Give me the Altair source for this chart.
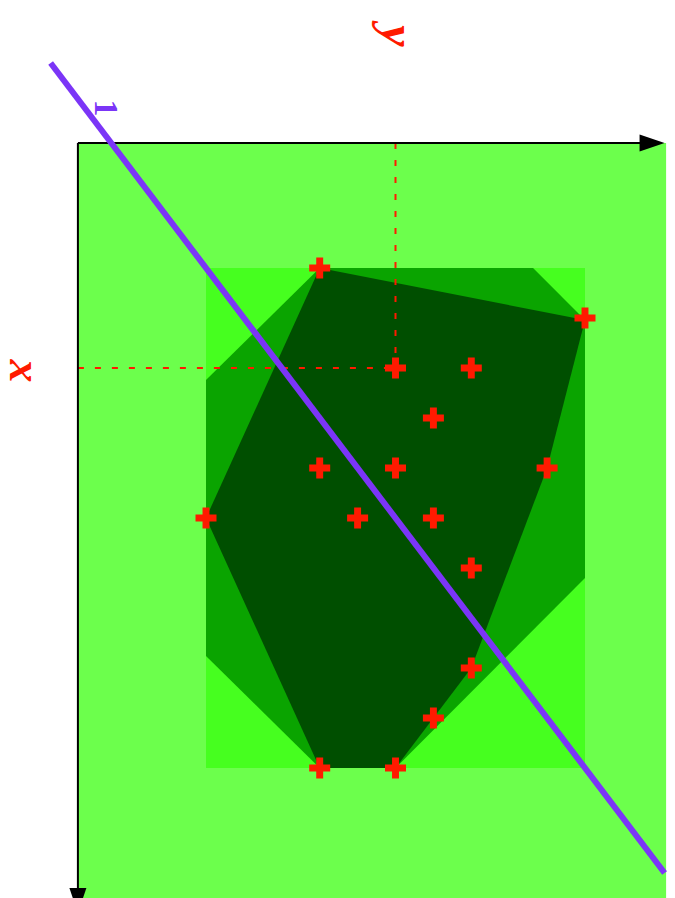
import altair as alt
import pandas as pd

# Diagram coordinates: "x" runs down the page, "y" runs to the right.
# Sample points
pt_x = [0, 1, 2, 2, 3, 4, 4, 4, 5, 5, 5, 6, 8, 9, 10, 10]
pt_y = [3, 10, 5, 7, 6, 3, 5, 9, 0, 4, 6, 7, 7, 6, 3, 5]

# Convex hull of the points
hull_x = [0, 1.04, 4, 8, 10, 10, 5]
hull_y = [3, 10, 9, 7, 5, 3, 0]

# Octagon: bounding box cut by the diagonal bounds
oct_x = [0, 0, 1.04, 6.2, 10, 10, 7.76, 2.24]
oct_y = [3, 8.63, 10, 10, 5, 3, 0, 0]

# Bounding box of the points
box_x = [0, 10]
box_y = [0, 10]

# Axis frame (origin and far ends) and background region
origin_x, origin_y = -2.5, -3.38
frame_x_end, frame_y_end = 12.6, 12.14

# Highlighted point for the dashed guides
guide_x, guide_y = 2, 5

# Separating line x = y
line_x = [-4.1, 12.1]
line_y = [-4.1, 12.1]

# Axis names (x label anchored at its baseline, y label at its centre)
xlab_text, xlab_x, xlab_y = "x", 2.06, -5.17
ylab_text, ylab_x, ylab_y = "y", -4.64, 5.0
line_label = "1"
line_label_x, line_label_y = -3.2, -2.66

W, H = 675, 898
XS = alt.Scale(domain=[-5.4354, 12.3747], nice=False, zero=False)
YS = alt.Scale(domain=[-5.36, 12.6], nice=False, zero=False, reverse=True)

RED = "#ff1a00"
PURPLE = "#7b35f7"


def px(field):
    return alt.X(field, type="quantitative", scale=XS, axis=None)


def py(field):
    return alt.Y(field, type="quantitative", scale=YS, axis=None)


def rect_layer(x0, x1, y0, y1, color):
    d = pd.DataFrame({"x0": [x0], "x1": [x1], "y0": [y0], "y1": [y1]})
    return alt.Chart(d).mark_rect(color=color, opacity=1).encode(
        x=px("y0"), x2="y1", y=py("x0"), y2="x1"
    )


def polygon_layer(xs, ys, color):
    d = pd.DataFrame({"x": xs, "y": ys, "i": list(range(len(xs)))})
    return alt.Chart(d).mark_line(
        filled=True, color=color, interpolate="linear-closed", strokeWidth=0
    ).encode(x=px("y"), y=py("x"), order="i:Q")


def segment_layer(x0, y0, x1, y1, **style):
    d = pd.DataFrame({"x0": [x0], "y0": [y0], "x1": [x1], "y1": [y1]})
    return alt.Chart(d).mark_rule(**style).encode(
        x=px("y0"), x2="y1", y=py("x0"), y2="x1"
    )


def text_layer(text, x, y, **style):
    d = pd.DataFrame({"t": [text], "x": [x], "y": [y]})
    return alt.Chart(d).mark_text(angle=90, align="center", **style).encode(
        x=px("y"), y=py("x"), text="t:N"
    )


background = rect_layer(origin_x, frame_x_end, origin_y, frame_y_end, "#6cff4c")
box = rect_layer(box_x[0], box_x[1], box_y[0], box_y[1], "#46ff1f")
octagon = polygon_layer(oct_x, oct_y, "#0aa400")
hull = polygon_layer(hull_x, hull_y, "#004f00")

dash_style = dict(color=RED, strokeWidth=2, strokeDash=[6, 11])
guide_h = segment_layer(guide_x, origin_y, guide_x, guide_y, **dash_style)
guide_v = segment_layer(origin_x, guide_y, guide_x, guide_y, **dash_style)

axis_style = dict(color="black", strokeWidth=2)
axis_right = segment_layer(origin_x, origin_y, origin_x, 11.9, **axis_style)
axis_down = segment_layer(origin_x, origin_y, 12.7, origin_y, **axis_style)

arrows = pd.DataFrame({
    "x": [origin_x, 12.65],
    "y": [11.77, origin_y],
    "shape": ["M-1,-0.68L1,0L-1,0.68Z", "M-0.68,-1L0.68,-1L0,1Z"],
})
arrow_heads = alt.Chart(arrows).mark_point(
    filled=True, color="black", opacity=1, size=625, strokeWidth=0
).encode(x=px("y"), y=py("x"), shape=alt.Shape("shape:N", scale=None, legend=None))

sep = pd.DataFrame({"x0": [line_x[0]], "y0": [line_y[0]], "x1": [line_x[1]], "y1": [line_y[1]]})
sep_line = alt.Chart(sep).mark_rule(color=PURPLE, strokeWidth=6, strokeCap="butt").encode(
    x=px("y0"), x2="y1", y=py("x0"), y2="x1"
)

pts = pd.DataFrame({"x": pt_x, "y": pt_y})
points = alt.Chart(pts).mark_point(
    shape="M-1,-0.33H-0.33V-1H0.33V-0.33H1V0.33H0.33V1H-0.33V0.33H-1Z",
    filled=True, color=RED, opacity=1, size=441, strokeWidth=0,
).encode(x=px("y"), y=py("x"))

label_font = dict(font="Liberation Serif", fontWeight="bold", fontStyle="italic", color=RED)
x_label = text_layer(xlab_text, xlab_x, xlab_y, fontSize=46, baseline="alphabetic", **label_font)
y_label = text_layer(ylab_text, ylab_x, ylab_y, fontSize=48, baseline="middle", **label_font)
line_text = text_layer(
    line_label, line_label_x, line_label_y,
    font="Liberation Serif", fontSize=34, fontWeight="bold", color=PURPLE, baseline="middle",
)

chart = alt.layer(
    background, box, octagon, hull, guide_h, guide_v, points,
    axis_right, axis_down, arrow_heads, sep_line, x_label, y_label, line_text,
).properties(
    width=W, height=H, padding=0, autosize="none", background="white"
).configure_view(stroke=None)

chart.save("out.html", embed_options={"renderer": "svg", "actions": False})
